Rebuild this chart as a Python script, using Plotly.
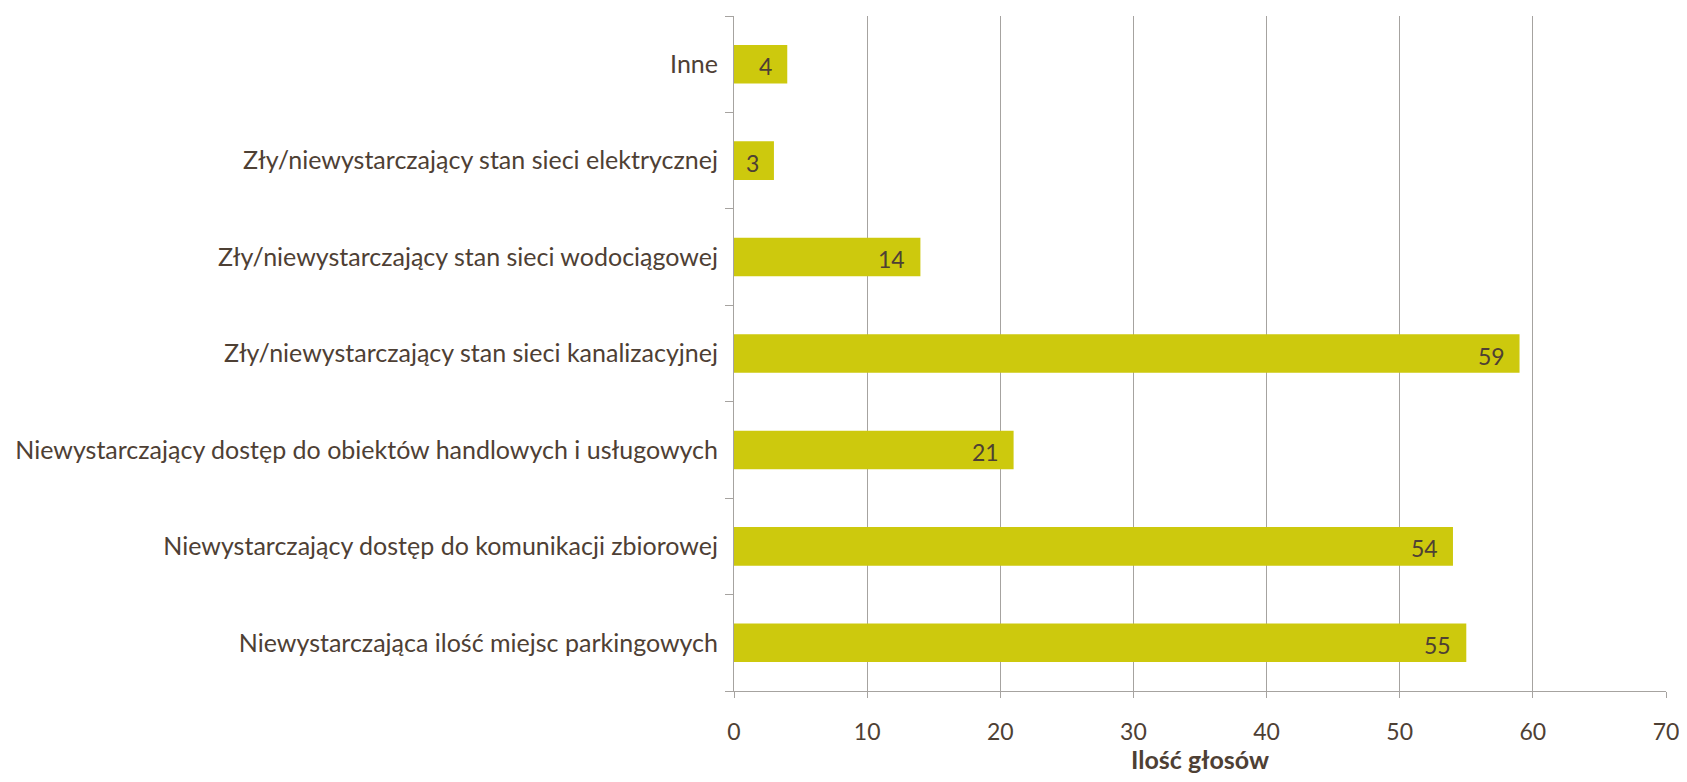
import plotly.graph_objects as go

categories = [
    "Niewystarczająca ilość miejsc parkingowych",
    "Niewystarczający dostęp do komunikacji zbiorowej",
    "Niewystarczający dostęp do obiektów handlowych i usługowych",
    "Zły/niewystarczający stan sieci kanalizacyjnej",
    "Zły/niewystarczający stan sieci wodociągowej",
    "Zły/niewystarczający stan sieci elektrycznej",
    "Inne",
]
values = [55, 54, 21, 59, 14, 3, 4]
x_ticks = [0, 10, 20, 30, 40, 50, 60, 70]

text_color = "#4e4034"
bar_color = "#cdc90d"
grid_color = "#a6a3a0"
font_family = "Lato, 'Open Sans', sans-serif"

fig = go.Figure(
    go.Bar(
        y=categories,
        x=values,
        orientation="h",
        marker=dict(color=bar_color, line=dict(width=0)),
        width=0.4,
        hoverinfo="x+y",
    )
)

for cat, v in zip(categories, values):
    fig.add_annotation(
        x=v,
        y=cat,
        text=str(v),
        showarrow=False,
        xanchor="right",
        xshift=-13,
        yshift=-2,
        font=dict(family=font_family, size=23, color=text_color),
    )

fig.update_layout(
    width=1671,
    height=766,
    paper_bgcolor="white",
    plot_bgcolor="white",
    margin=dict(l=726, r=13, t=8, b=83, autoexpand=False),
    showlegend=False,
    font=dict(family=font_family, size=24, color=text_color),
)

fig.update_xaxes(
    range=[0, 70],
    tickvals=x_ticks,
    showgrid=True,
    gridcolor=grid_color,
    gridwidth=1,
    showline=True,
    linecolor=grid_color,
    linewidth=1,
    ticks="outside",
    ticklen=6,
    tickcolor=grid_color,
    tickfont=dict(size=23, color=text_color),
    ticklabelstandoff=14,
    ticklabeloverflow="allow",
    automargin=False,
    zeroline=False,
    title=dict(text="<b>Ilość głosów</b>", font=dict(size=25, color=text_color), standoff=28),
)

fig.update_yaxes(
    categoryorder="array",
    categoryarray=categories,
    showline=True,
    linecolor=grid_color,
    linewidth=1,
    ticks="outside",
    tickson="boundaries",
    ticklen=8,
    tickcolor=grid_color,
    showgrid=False,
    automargin=False,
    tickfont=dict(size=25, color=text_color),
    ticklabelstandoff=10,
)

fig.write_html("out.html")
